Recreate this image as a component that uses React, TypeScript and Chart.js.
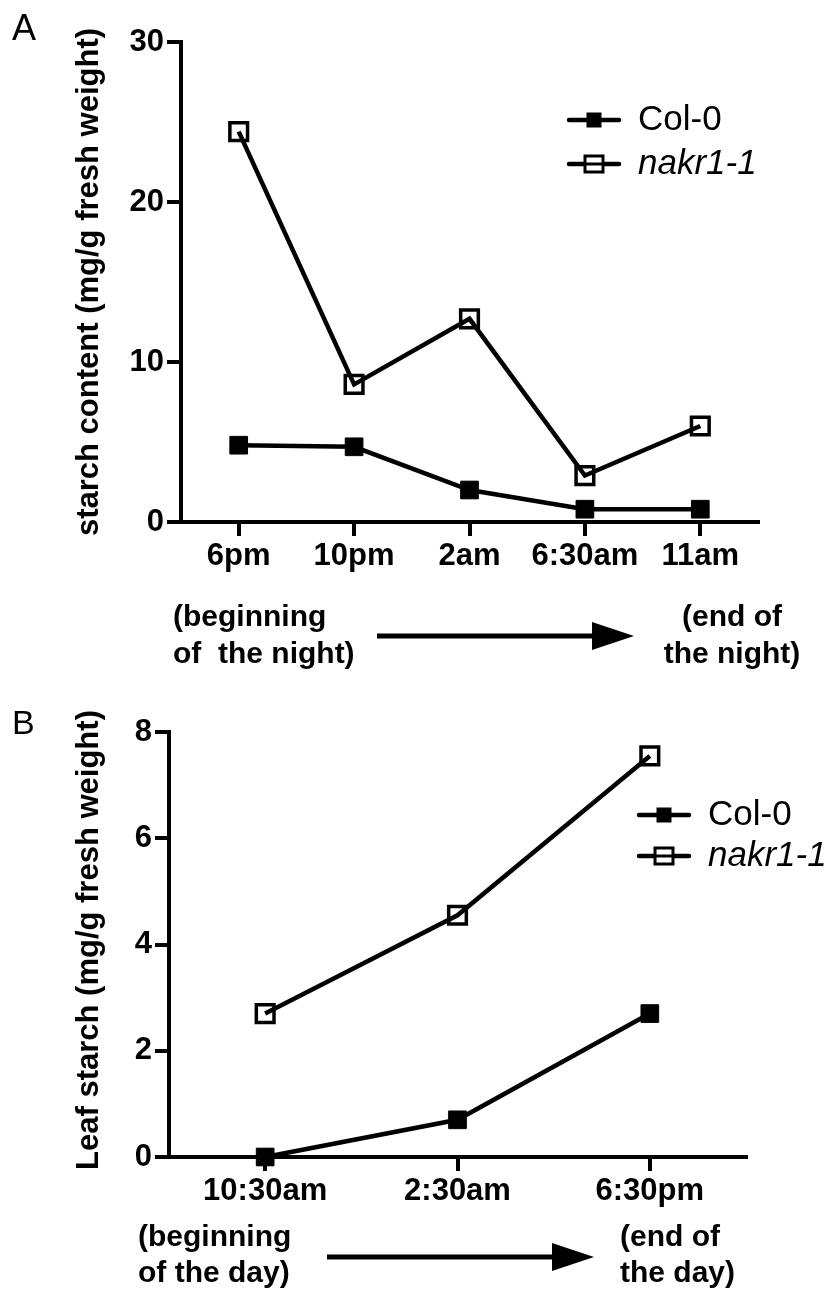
import React, { useEffect, useRef } from "react";
import { Chart, registerables } from "chart.js";

Chart.register(...registerables);

// ---- data ----
const nightLabels = ["6pm", "10pm", "2am", "6:30am", "11am"];
const nightCol0 = [4.8, 4.7, 2.0, 0.8, 0.8];
const nightNakr = [24.4, 8.6, 12.7, 2.9, 6.0];

const dayLabels = ["10:30am", "2:30am", "6:30pm"];
const dayCol0 = [0, 0.7, 2.7];
const dayNakr = [2.7, 4.55, 7.55];

const seriesNames = ["Col-0", "nakr1-1"];

const FONT = "'Liberation Sans', Arial, Helvetica, sans-serif";
const W = 834;

type Panel = {
  letter: string;
  letterSize: number;
  letterBaseline: number;
  labels: string[];
  col0: number[];
  nakr: number[];
  yMax: number;
  yStep: number;
  height: number;
  area: { left: number; top: number; right: number; bottom: number };
  title: string;
  titleCenter: number;
  legendY: [number, number];
  legendLine: [number, number];
  legendTextX: number;
  leftNote: [string, string];
  leftNoteX: number;
  rightNote: [string, string];
  rightNoteX: number;
  rightAlign: CanvasTextAlign;
  noteY: [number, number];
  arrow: { x1: number; base: number; tip: number; y: number };
};

const panelA: Panel = {
  letter: "A",
  letterSize: 36,
  letterBaseline: 40,
  labels: nightLabels,
  col0: nightCol0,
  nakr: nightNakr,
  yMax: 30,
  yStep: 10,
  height: 700,
  area: { left: 181, top: 42, right: 758, bottom: 522 },
  title: "starch content (mg/g fresh weight)",
  titleCenter: 282,
  legendY: [120, 164],
  legendLine: [569, 619],
  legendTextX: 638,
  leftNote: ["(beginning", "of  the night)"],
  leftNoteX: 173,
  rightNote: ["(end of", "the night)"],
  rightNoteX: 732,
  rightAlign: "center",
  noteY: [618, 655],
  arrow: { x1: 377, base: 592, tip: 634, y: 636 },
};

const panelB: Panel = {
  letter: "B",
  letterSize: 34,
  letterBaseline: 34,
  labels: dayLabels,
  col0: dayCol0,
  nakr: dayNakr,
  yMax: 8,
  yStep: 2,
  height: 591,
  area: { left: 169, top: 32, right: 746, bottom: 457 },
  title: "Leaf starch (mg/g fresh weight)",
  titleCenter: 240,
  legendY: [115, 156],
  legendLine: [639, 689],
  legendTextX: 708,
  leftNote: ["(beginning", "of the day)"],
  leftNoteX: 138,
  rightNote: ["(end of", "the day)"],
  rightNoteX: 620,
  rightAlign: "left",
  noteY: [538, 574],
  arrow: { x1: 327, base: 552, tip: 594, y: 557 },
};

function overlay(p: Panel) {
  return {
    id: "overlay" + p.letter,
    afterDraw(chart: any) {
      const ctx: CanvasRenderingContext2D = chart.ctx;
      ctx.save();
      ctx.fillStyle = "#000";
      ctx.strokeStyle = "#000";

      // panel letter
      ctx.font = `${p.letterSize}px ${FONT}`;
      ctx.textAlign = "left";
      ctx.textBaseline = "alphabetic";
      ctx.fillText(p.letter, 12, p.letterBaseline);

      // y title
      ctx.save();
      ctx.translate(98, p.titleCenter);
      ctx.rotate(-Math.PI / 2);
      ctx.font = `bold 31px ${FONT}`;
      ctx.textAlign = "center";
      ctx.textBaseline = "alphabetic";
      ctx.fillText(p.title, 0, 0);
      ctx.restore();

      // legend
      const ds = chart.data.datasets;
      for (let i = 0; i < ds.length; i++) {
        const y = p.legendY[i];
        const [lx1, lx2] = p.legendLine;
        const cx = (lx1 + lx2) / 2;
        ctx.lineWidth = 4.5;
        ctx.lineCap = "round";
        ctx.beginPath();
        ctx.moveTo(lx1, y);
        ctx.lineTo(lx2, y);
        ctx.stroke();
        if (i === 0) {
          ctx.fillRect(cx - 7.5, y - 7.5, 15, 15);
        } else {
          ctx.fillStyle = "#fff";
          ctx.fillRect(cx - 9, y - 8, 18, 16);
          ctx.fillStyle = "#000";
          ctx.lineWidth = 3;
          ctx.strokeRect(cx - 9, y - 8, 18, 16);
          ctx.beginPath();
          ctx.moveTo(cx - 9, y);
          ctx.lineTo(cx + 9, y);
          ctx.stroke();
        }
        ctx.font = `${i === 1 ? "italic " : ""}35px ${FONT}`;
        ctx.textAlign = "left";
        ctx.textBaseline = "middle";
        ctx.fillText(ds[i].label, p.legendTextX, y);
      }

      // notes
      ctx.font = `bold 30px ${FONT}`;
      ctx.textBaseline = "middle";
      ctx.textAlign = "left";
      ctx.fillText(p.leftNote[0], p.leftNoteX, p.noteY[0]);
      ctx.fillText(p.leftNote[1], p.leftNoteX, p.noteY[1]);
      ctx.textAlign = p.rightAlign;
      ctx.fillText(p.rightNote[0], p.rightNoteX, p.noteY[0]);
      ctx.fillText(p.rightNote[1], p.rightNoteX, p.noteY[1]);

      // arrow
      const a = p.arrow;
      ctx.lineWidth = 5;
      ctx.lineCap = "butt";
      ctx.beginPath();
      ctx.moveTo(a.x1, a.y);
      ctx.lineTo(a.base + 2, a.y);
      ctx.stroke();
      ctx.beginPath();
      ctx.moveTo(a.base, a.y - 14);
      ctx.lineTo(a.tip, a.y);
      ctx.lineTo(a.base, a.y + 14);
      ctx.closePath();
      ctx.fill();

      ctx.restore();
    },
  };
}

function makeChart(canvas: HTMLCanvasElement, p: Panel) {
  const axisGrid = {
    display: true,
    drawOnChartArea: false,
    drawTicks: true,
    tickLength: 14,
    color: "#000",
    lineWidth: 4,
  };
  const tickFont = { family: FONT, size: 31, weight: "bold" as const };
  return new Chart(canvas, {
    type: "line",
    data: {
      labels: p.labels,
      datasets: [
        {
          label: seriesNames[0],
          data: p.col0,
          borderColor: "#000",
          borderWidth: 4.5,
          pointStyle: "rect",
          pointRadius: 12.5,
          pointBackgroundColor: "#000",
          pointBorderColor: "#000",
          pointBorderWidth: 1,
          tension: 0,
          fill: false,
          clip: false as any,
        },
        {
          label: seriesNames[1],
          data: p.nakr,
          borderColor: "#000",
          borderWidth: 4.5,
          pointStyle: "rect",
          pointRadius: 12.5,
          pointBackgroundColor: "rgba(0,0,0,0)",
          pointBorderColor: "#000",
          pointBorderWidth: 3.5,
          tension: 0,
          fill: false,
          clip: false as any,
        },
      ],
    },
    options: {
      responsive: false,
      animation: false,
      devicePixelRatio: 1,
      events: [],
      layout: {
        padding: { left: 0, top: p.area.top, right: W - p.area.right, bottom: 0 },
      },
      plugins: {
        legend: { display: false },
        tooltip: { enabled: false },
        title: { display: false },
      },
      scales: {
        x: {
          type: "category",
          offset: true,
          border: { display: true, color: "#000", width: 4 },
          grid: { ...axisGrid, offset: false },
          ticks: {
            color: "#000",
            font: tickFont,
            padding: 2,
            maxRotation: 0,
            autoSkip: false,
          },
          afterFit: (s: any) => {
            s.height = p.height - p.area.bottom;
          },
        },
        y: {
          min: 0,
          max: p.yMax,
          border: { display: true, color: "#000", width: 4 },
          grid: axisGrid,
          ticks: {
            stepSize: p.yStep,
            color: "#000",
            font: tickFont,
            padding: 3,
          },
          afterFit: (s: any) => {
            s.width = p.area.left;
          },
        },
      },
    },
    plugins: [overlay(p)],
  } as any);
}

function PanelChart({ panel, top }: { panel: Panel; top: number }) {
  const ref = useRef<HTMLCanvasElement | null>(null);
  useEffect(() => {
    if (!ref.current) return;
    const c = makeChart(ref.current, panel);
    return () => c.destroy();
  }, [panel]);
  return (
    <canvas
      ref={ref}
      width={W}
      height={panel.height}
      style={{ position: "absolute", left: 0, top, width: W, height: panel.height, display: "block" }}
    />
  );
}

export default function App() {
  return (
    <div
      style={{
        position: "absolute",
        left: 0,
        top: 0,
        width: W,
        height: 1291,
        background: "#fff",
        overflow: "hidden",
      }}
    >
      <PanelChart panel={panelA} top={0} />
      <PanelChart panel={panelB} top={700} />
    </div>
  );
}
